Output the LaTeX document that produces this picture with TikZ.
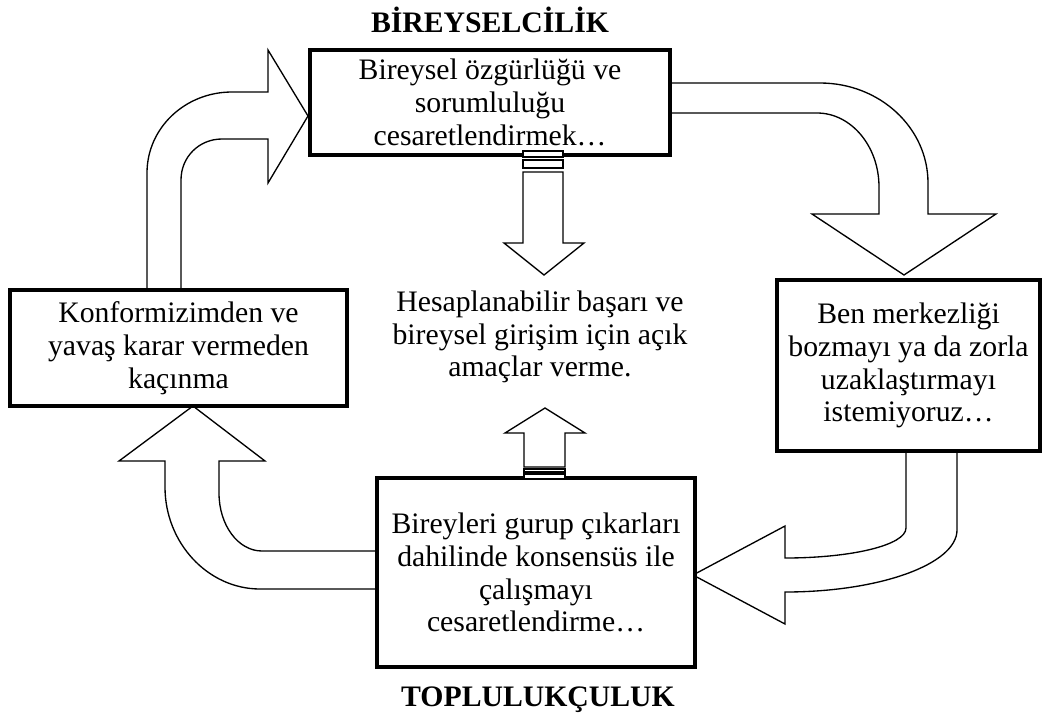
\documentclass[tikz,border=0pt]{standalone}
\usepackage{fontspec}
\setmainfont{Liberation Serif}
\newcommand{\metin}{\fontsize{22.3}{24.6}\selectfont}

\begin{document}
\begin{tikzpicture}[x=0.75pt, y=-0.75pt,
	box/.style = {draw, fill=white, line width=3pt, align=center, inner sep=0pt, font=\metin},
	plain/.style = {align=center, inner sep=0pt, font=\metin},
	title/.style = {inner sep=0pt, font=\metin\bfseries},
	blockarrow/.style = {draw, fill=white, line width=1pt, line join=miter}]
	\useasboundingbox (0,0) rectangle (1050,722);

	% bent arrows, behind the boxes
	\filldraw[blockarrow] (147,295) -- (147,173) .. controls (147,128) and (185,92) .. (232,92)
		-- (268,92) -- (268,50) -- (308,116) -- (268,183) -- (268,139) -- (222,139)
		.. controls (199,139) and (181,157) .. (181,180) -- (181,295) -- cycle;
	\filldraw[blockarrow] (660,83) -- (820,83) .. controls (880,83) and (928,128) .. (928,183)
		-- (928,214) -- (996,214) -- (904,275) -- (812,214) -- (879,214) -- (879,187)
		.. controls (879,146) and (851,113) .. (817,113) -- (660,113) -- cycle;
	\filldraw[blockarrow] (906,440) -- (906,528) .. controls (906,545) and (852,558) .. (785,558)
		-- (785,526) -- (693,575) -- (785,624) -- (785,592)
		.. controls (880,592) and (957,564) .. (957,530) -- (957,440) -- cycle;
	\filldraw[blockarrow] (390,551) -- (262,551) .. controls (238,551) and (219,525) .. (219,493)
		-- (219,461) -- (265,461) -- (193,406) -- (119,461) -- (165,461) -- (165,487)
		.. controls (165,543) and (208,589) .. (260,589) -- (390,589) -- cycle;

	\node[box, minimum width=270pt, minimum height=78.75pt] (indiv) at (490,102.5)
		{Bireysel özgürlüğü ve\\sorumluluğu\\cesaretlendirmek…};
	\node[box, minimum width=252.75pt, minimum height=87pt] (conf) at (178.5,348)
		{Konformizimden ve\\yavaş karar vermeden\\kaçınma};
	\node[box, minimum width=197.25pt, minimum height=128.25pt] (ego) at (908.5,365.5)
		{Ben merkezliği\\bozmayı ya da zorla\\uzaklaştırmayı\\istemiyoruz…};
	\node[box, minimum width=238.5pt, minimum height=141.75pt] (coll) at (536,572.5)
		{Bireyleri gurup çıkarları\\dahilinde konsensüs ile\\çalışmayı\\cesaretlendirme…};
	\node[plain] (goal) at (540,337)
		{Hesaplanabilir başarı ve\\bireysel girişim için açık\\amaçlar verme.};
	\node[title] (ind) at (490,20) {BİREYSELCİLİK};
	\node[title] (col) at (538,700) {TOPLULUKÇULUK};

	% striped arrows
	\filldraw[blockarrow] (523,151) rectangle (563,157);
	\filldraw[blockarrow] (523,160) rectangle (563,168);
	\filldraw[blockarrow] (523,172) -- (523,243) -- (504,243) -- (544,275) -- (584,243)
		-- (563,243) -- (563,172) -- cycle;
	\filldraw[blockarrow] (524,474) rectangle (565,479);
	\filldraw[blockarrow] (524,469) rectangle (565,472);
	\filldraw[blockarrow] (524,467) -- (524,433) -- (505,433) -- (545,408) -- (585,433)
		-- (565,433) -- (565,467) -- cycle;
\end{tikzpicture}
\end{document}
